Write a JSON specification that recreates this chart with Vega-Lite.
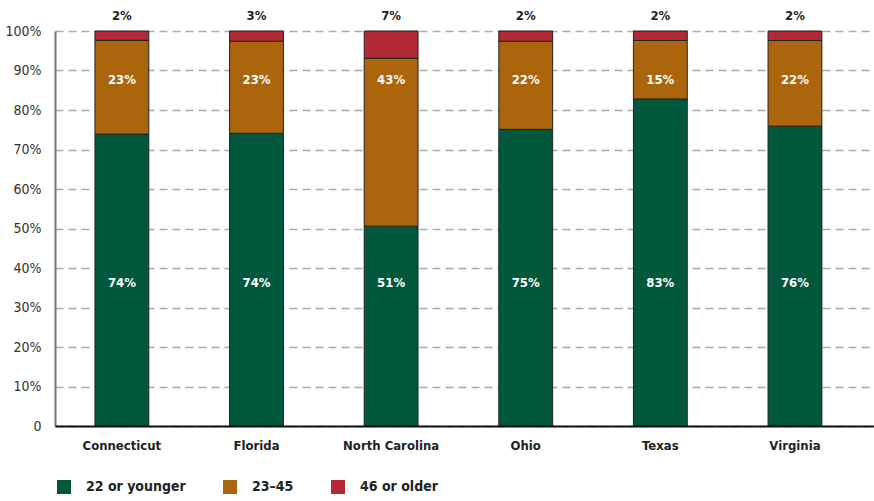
{
  "$schema": "https://vega.github.io/schema/vega-lite/v6.json",
  "width": 819,
  "height": 395,
  "autosize": {"type": "none"},
  "padding": {"left": 55, "top": 31, "right": 0, "bottom": 75},
  "background": "white",
  "config": {
    "font": "DejaVu Sans Condensed, Liberation Sans, sans-serif",
    "view": {"stroke": null},
    "axisY": {
      "title": null,
      "tickCount": 10,
      "labelExpr": "datum.value === 0 ? '0' : datum.value + '%'",
      "grid": true,
      "gridDash": [8, 5],
      "gridColor": "#aaaaaa",
      "gridWidth": 1.5,
      "domainColor": "#777",
      "domainWidth": 2,
      "ticks": false,
      "labelPadding": 14,
      "labelFontSize": 14,
      "labelColor": "#333"
    }
  },
  "data": {
    "values": [
      {"state": "Connecticut", "group": "22 or younger", "value": 73.9, "label": "74%"},
      {"state": "Connecticut", "group": "23–45", "value": 23.75, "label": "23%"},
      {"state": "Connecticut", "group": "46 or older", "value": 2.35, "label": "2%"},
      {"state": "Florida", "group": "22 or younger", "value": 74.1, "label": "74%"},
      {"state": "Florida", "group": "23–45", "value": 23.3, "label": "23%"},
      {"state": "Florida", "group": "46 or older", "value": 2.6, "label": "3%"},
      {"state": "North Carolina", "group": "22 or younger", "value": 50.6, "label": "51%"},
      {"state": "North Carolina", "group": "23–45", "value": 42.5, "label": "43%"},
      {"state": "North Carolina", "group": "46 or older", "value": 6.9, "label": "7%"},
      {"state": "Ohio", "group": "22 or younger", "value": 75.1, "label": "75%"},
      {"state": "Ohio", "group": "23–45", "value": 22.3, "label": "22%"},
      {"state": "Ohio", "group": "46 or older", "value": 2.6, "label": "2%"},
      {"state": "Texas", "group": "22 or younger", "value": 82.8, "label": "83%"},
      {"state": "Texas", "group": "23–45", "value": 14.8, "label": "15%"},
      {"state": "Texas", "group": "46 or older", "value": 2.4, "label": "2%"},
      {"state": "Virginia", "group": "22 or younger", "value": 75.9, "label": "76%"},
      {"state": "Virginia", "group": "23–45", "value": 21.7, "label": "22%"},
      {"state": "Virginia", "group": "46 or older", "value": 2.4, "label": "2%"}
    ]
  },
  "encoding": {
    "x": {
      "field": "state",
      "type": "nominal",
      "sort": null,
      "scale": {"paddingInner": 0.6, "paddingOuter": 0.342, "align": 0.434},
      "axis": {
        "title": null,
        "ticks": false,
        "domainColor": "#111",
        "domainWidth": 2,
        "labelAngle": 0,
        "labelFontSize": 13,
        "labelFontWeight": "bold",
        "labelColor": "#222",
        "labelPadding": 13,
        "zindex": 1
      }
    }
  },
  "layer": [
    {
      "mark": {"type": "bar", "stroke": "#222", "strokeWidth": 1},
      "encoding": {
        "y": {
          "field": "value",
          "type": "quantitative",
          "stack": "zero",
          "scale": {"domain": [0, 100], "nice": false}
        },
        "color": {
          "field": "group",
          "type": "nominal",
          "scale": {
            "domain": ["22 or younger", "23–45", "46 or older"],
            "range": ["#02583c", "#ab660d", "#b32935"]
          },
          "legend": {
            "orient": "none",
            "legendX": 2,
            "legendY": 449,
            "direction": "horizontal",
            "title": null,
            "symbolType": "square",
            "symbolSize": 196,
            "symbolStrokeWidth": 0,
            "symbolOpacity": 1,
            "labelFontSize": 14,
            "labelFontWeight": "bold",
            "labelColor": "#222",
            "labelOffset": 15,
            "columnPadding": 37
          }
        },
        "order": {"field": "group", "sort": "ascending"}
      }
    },
    {
      "transform": [{"filter": "datum.group === '22 or younger'"}],
      "mark": {"type": "text", "color": "white", "fontWeight": "bold", "fontSize": 13, "baseline": "middle"},
      "encoding": {"y": {"datum": 36.2}, "text": {"field": "label"}}
    },
    {
      "transform": [{"filter": "datum.group === '23–45'"}],
      "mark": {"type": "text", "color": "white", "fontWeight": "bold", "fontSize": 13, "baseline": "middle"},
      "encoding": {"y": {"datum": 87.5}, "text": {"field": "label"}}
    },
    {
      "transform": [{"filter": "datum.group === '46 or older'"}],
      "mark": {"type": "text", "color": "#222", "fontWeight": "bold", "fontSize": 13, "baseline": "middle"},
      "encoding": {"y": {"datum": 103.7}, "text": {"field": "label"}}
    }
  ]
}
